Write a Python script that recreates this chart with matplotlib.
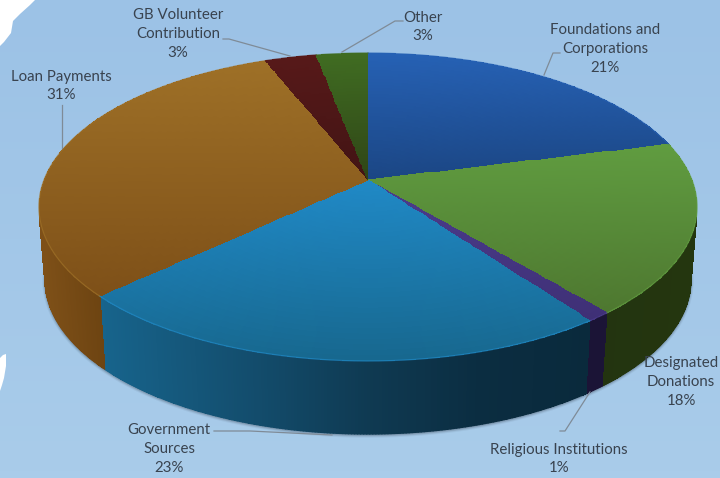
import numpy as np
import matplotlib
matplotlib.use("Agg")
import matplotlib.pyplot as plt
from matplotlib.colors import to_rgb

categories = ["Foundations and\nCorporations", "Designated\nDonations", "Religious Institutions",
              "Government\nSources", "Loan Payments", "GB Volunteer\nContribution", "Other"]
shares = [21, 18, 1, 23, 31, 3, 3]

# -------------------
# STYLE
# -------------------

top_light = ["#2661B4", "#609C40", "#4B3C8C", "#2089C6", "#9E7027", "#571919", "#406C22"]
top_dark = ["#1B4684", "#4E7830", "#3F3076", "#17688F", "#7E5018", "#421414", "#2F4516"]

wall_x = [[368, 700], [590, 700], [580, 610], [100, 250, 368, 480, 590], [40, 105, 370], [260, 320], [310, 370]]
wall_colors = [["#143260", "#143260"],
               ["#233410", "#24360F"],
               ["#1B1436", "#1B1436"],
               ["#17648C", "#134D6D", "#0F3A52", "#0B2D41", "#0A2A3C"],
               ["#7E5018", "#6C4311", "#6C4311"],
               ["#3A1010", "#3A1010"],
               ["#2A3E14", "#2A3E14"]]

label_xy = [(605, 49), (681, 382), (559, 459), (169, 449), (61, 86), (178, 34), (423, 27)]
leaders = [[(560, 53), (553, 53), (544, 75)],
           [],
           [(560, 431), (565, 431), (590, 392)],
           [(214, 431), (250, 431), (332, 435)],
           [(62, 105), (62, 148)],
           [(223, 39), (229, 39), (290, 56)],
           [(403, 21), (395, 21), (342, 52)]]

# perspective of the pie, pixels
CX, CY = 368, 180
RX, RY = 324, -117.7
K = 0.1753
WALL_SCALE = 0.981
WALL_DROP = 73


def project(x, y):
    denom = 1 + K * y
    return CX + RX * x / denom, (CY + RY * y) / denom


def rim(theta, r=1.0):
    return project(r * np.sin(theta), r * np.cos(theta))


def to_wall(px, py):
    return CX + WALL_SCALE * (px - CX), py + WALL_DROP


def blend(c1, c2, f):
    c1 = np.array(to_rgb(c1))
    c2 = np.array(to_rgb(c2))
    f = np.clip(f, 0, 1)[..., None]
    return c1 * (1 - f) + c2 * f


fig = plt.figure(figsize=(7.2, 4.78), dpi=100)
ax = fig.add_axes([0, 0, 1, 1])
ax.axis("off")

# background
bg = blend("#9CC2E6", "#A9CCEA", np.linspace(0, 1, 64)[:, None])
ax.imshow(bg, extent=(0, 720, 478, 0), aspect="auto", zorder=0)
ax.fill([0, 35, 30, 20, 13, 11, 4, 0], [0, 0, 5, 14, 21, 33, 42, 46], color="white", lw=0, zorder=1)
ax.fill([0, 3, 6, 6, 4, 2, 0], [358, 355, 354, 366, 378, 385, 391], color="white", lw=0, zorder=1)

edges = 2 * np.pi * np.concatenate([[0], np.cumsum(shares)]) / np.sum(shares)

# soft shadow under the pie
t = np.linspace(0, 2 * np.pi, 400)
sx, sy = to_wall(*rim(t))
for lw, alpha in [(4, 0.08), (2.5, 0.14), (1.2, 0.2)]:
    ax.plot(sx, sy + 1, color="#3C4A5A", lw=lw, alpha=alpha, zorder=2)

# outer walls
for i in range(len(shares)):
    t = np.linspace(edges[i], edges[i + 1], max(int(shares[i] * 8), 8))
    px, py = rim(t)
    qx, qy = to_wall(px, py)
    X = np.vstack([px, qx])
    Y = np.vstack([py, qy])
    mid = (px[:-1] + px[1:]) / 2
    stops = np.array([to_rgb(c) for c in wall_colors[i]])
    rgb = np.stack([np.interp(mid, wall_x[i], stops[:, j]) for j in range(3)], axis=-1)[None, :, :]
    ax.pcolormesh(X, Y, rgb, shading="flat", antialiased=False, zorder=3)
    # smooth the lower edge, the mesh has no antialiasing
    for j in range(len(mid)):
        ax.plot(qx[j:j + 2], qy[j:j + 2], color=rgb[0, j], lw=1.0, zorder=3, solid_capstyle="round")

# top faces
for i in range(len(shares)):
    t = np.linspace(edges[i], edges[i + 1], max(int(shares[i] * 8), 8))
    r = np.linspace(0, 1, 40)
    tt, rr = np.meshgrid(t, r)
    X, Y = rim(tt, rr)
    ymid = (Y[:-1, :-1] + Y[1:, 1:]) / 2
    f = (ymid - ymid.min()) / (ymid.max() - ymid.min())
    ax.pcolormesh(X, Y, blend(top_light[i], top_dark[i], f), shading="flat", antialiased=False, zorder=4)
    # thin highlight on the rim and clean wedge sides
    ex, ey = rim(t)
    ax.plot(ex, ey, color=top_light[i], lw=0.9, alpha=0.7, zorder=5)

# labels
for name, share, (x, y), line in zip(categories, shares, label_xy, leaders):
    ax.text(x, y, f"{name}\n{share}%", ha="center", va="center", color="#39434F",
            fontsize=10.8, family="Lato", linespacing=1.42, zorder=7)
    if line:
        ax.plot(*zip(*line), color="#7F8B97", lw=0.9, zorder=6)

ax.set_xlim(0, 720)
ax.set_ylim(478, 0)

fig.savefig("out.png", dpi=100)
